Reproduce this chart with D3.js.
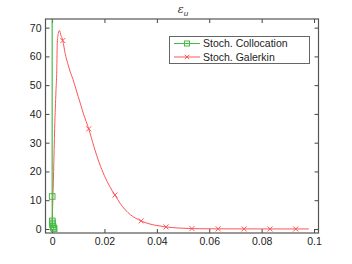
<!DOCTYPE html>
<html>
<head>
<meta charset="utf-8">
<script src="https://cdn.jsdelivr.net/npm/d3@7"></script>
<style>
  body { margin: 0; background: #fff; }
  text { font-family: "Liberation Sans", Arial, sans-serif; }
</style>
</head>
<body>
<script>
// Stochastic Galerkin curve (line points)
var galX = [0, 0.0002, 0.0006, 0.001, 0.0015, 0.0018, 0.002, 0.0024, 0.0028, 0.0034,
            0.0041, 0.005, 0.006, 0.007, 0.008, 0.009, 0.010, 0.011, 0.012, 0.013,
            0.014, 0.016, 0.018, 0.020, 0.022, 0.024, 0.026, 0.028, 0.030, 0.032,
            0.034, 0.037, 0.040, 0.0435, 0.048, 0.0534, 0.058, 0.0634, 0.0733, 0.0832,
            0.093, 0.098];
var galY = [0.2, 7, 20, 35, 48, 55, 65, 68, 69, 67.3,
            65.5, 61, 57.5, 54.5, 52, 49, 46, 43, 40, 37.4,
            34.8, 28.6, 23, 18.5, 14.8, 11.8, 8.9, 6.6, 4.9, 3.7,
            2.8, 1.8, 1.2, 0.7, 0.35, 0.12, 0.07, 0.04, 0.02, 0.01,
            0.01, 0.01];
// Galerkin markers (every 10th sample)
var galMarkX = [0.0041, 0.014, 0.024, 0.034, 0.0435, 0.0534, 0.0634, 0.0733, 0.0832, 0.093];
var galMarkY = [65.5, 34.8, 11.8, 2.8, 0.7, 0.12, 0.04, 0.02, 0.01, 0.01];

// Stochastic collocation
var colX = [0.00001, 0.00005, 0.0001, 0.00015, 0.0002, 0.0004, 0.0006, 0.0008];
var colY = [400, 11.3, 2.8, 2.1, 1.5, 0.8, 0.3, 0.05];

var xTicks = [0, 0.02, 0.04, 0.06, 0.08, 0.1];
var yTicks = [0, 10, 20, 30, 40, 50, 60, 70];
var seriesNames = ["Stoch. Collocation", "Stoch. Galerkin"];

var width = 352, height = 264;
var frame = { left: 45.5, right: 318.5, top: 19, bottom: 233 };
var red = "#ff5555", green = "#44bb44";

var svg = d3.select("body").append("svg")
  .attr("width", width)
  .attr("height", height);

svg.append("rect")
  .attr("width", width)
  .attr("height", height)
  .attr("fill", "#fff");

var x = d3.scaleLinear().domain([-0.0025, 0.1017]).range([frame.left, frame.right]);
var y = d3.scaleLinear().domain([-1.4, 73]).range([frame.bottom, frame.top]);

// axes with inward ticks
function styleAxis(g) {
  g.select(".domain").remove();
  g.selectAll(".tick line").attr("stroke", "#444");
  g.selectAll(".tick text").attr("fill", "#222").style("font-size", "10.5px");
}

svg.append("g")
  .attr("transform", "translate(0," + frame.bottom + ")")
  .call(d3.axisBottom(x).tickValues(xTicks).tickSize(-4).tickPadding(5)
    .tickFormat(function(d) { return String(+d.toFixed(2)); }))
  .call(styleAxis);

svg.append("g")
  .attr("transform", "translate(0," + frame.top + ")")
  .call(d3.axisTop(x).tickValues(xTicks).tickSize(-4).tickFormat(""))
  .call(styleAxis);

svg.append("g")
  .attr("transform", "translate(" + frame.left + ",0)")
  .call(d3.axisLeft(y).tickValues(yTicks).tickSize(-4).tickPadding(4))
  .call(styleAxis);

svg.append("g")
  .attr("transform", "translate(" + frame.right + ",0)")
  .call(d3.axisRight(y).tickValues(yTicks).tickSize(-4).tickFormat(""))
  .call(styleAxis);

// clip region
svg.append("clipPath").attr("id", "clip")
  .append("rect")
  .attr("x", frame.left)
  .attr("y", frame.top)
  .attr("width", frame.right - frame.left)
  .attr("height", frame.bottom - frame.top);

var plot = svg.append("g").attr("clip-path", "url(#clip)");

var galData = galX.map(function(d, i) { return [d, galY[i]]; });
var colData = colX.map(function(d, i) { return [d, colY[i]]; });

var line = d3.line()
  .x(function(d) { return x(d[0]); })
  .y(function(d) { return y(d[1]); })
  .curve(d3.curveMonotoneX);

plot.append("path")
  .datum(galData)
  .attr("fill", "none")
  .attr("stroke", red)
  .attr("stroke-width", 1)
  .attr("d", line);

plot.append("path")
  .datum(colData)
  .attr("fill", "none")
  .attr("stroke", green)
  .attr("stroke-width", 1.2)
  .attr("d", d3.line().x(function(d) { return x(d[0]); }).y(function(d) { return y(d[1]); }));

function crossPath(cx, cy, s) {
  return "M" + (cx - s) + "," + (cy - s) + "L" + (cx + s) + "," + (cy + s) +
         "M" + (cx - s) + "," + (cy + s) + "L" + (cx + s) + "," + (cy - s);
}

plot.selectAll(".gmark")
  .data(galMarkX)
  .enter().append("path")
  .attr("class", "gmark")
  .attr("fill", "none")
  .attr("stroke", red)
  .attr("d", function(d, i) { return crossPath(x(d), y(galMarkY[i]), 2.5); });

plot.selectAll(".cmark")
  .data(colData)
  .enter().append("rect")
  .attr("class", "cmark")
  .attr("x", function(d) { return x(d[0]) - 2.8; })
  .attr("y", function(d) { return y(d[1]) - 2.8; })
  .attr("width", 5.6)
  .attr("height", 5.6)
  .attr("fill", "none")
  .attr("stroke", green);

// frame
svg.append("rect")
  .attr("x", frame.left)
  .attr("y", frame.top)
  .attr("width", frame.right - frame.left)
  .attr("height", frame.bottom - frame.top)
  .attr("fill", "none")
  .attr("stroke", "#555")
  .attr("stroke-width", 1.2);

// title
var title = svg.append("text")
  .attr("x", 183)
  .attr("y", 13)
  .attr("text-anchor", "middle")
  .attr("fill", "#333")
  .style("font-size", "11px");
title.append("tspan")
  .style("font-family", "'DejaVu Serif', serif")
  .style("font-style", "italic")
  .text("ε");
title.append("tspan")
  .attr("dy", 3)
  .style("font-size", "8px")
  .style("font-style", "italic")
  .text("u");

// legend
var legend = svg.append("g");
legend.append("rect")
  .attr("x", 169.5)
  .attr("y", 36.5)
  .attr("width", 140)
  .attr("height", 27)
  .attr("fill", "#fff")
  .attr("stroke", "#666");

var legColors = [green, red];
seriesNames.forEach(function(name, i) {
  var ly = 43.5 + i * 13.5;
  legend.append("line")
    .attr("x1", 174).attr("x2", 200)
    .attr("y1", ly).attr("y2", ly)
    .attr("stroke", legColors[i]);
  if (i === 0) {
    legend.append("rect")
      .attr("x", 184.5).attr("y", ly - 2.5)
      .attr("width", 5).attr("height", 5)
      .attr("fill", "none").attr("stroke", green);
  } else {
    legend.append("path")
      .attr("fill", "none").attr("stroke", red)
      .attr("d", crossPath(187, ly, 2.2));
  }
  legend.append("text")
    .attr("x", 203)
    .attr("y", ly + 3.8)
    .attr("fill", "#222")
    .style("font-size", "10.5px")
    .text(name);
});
</script>
</body>
</html>
